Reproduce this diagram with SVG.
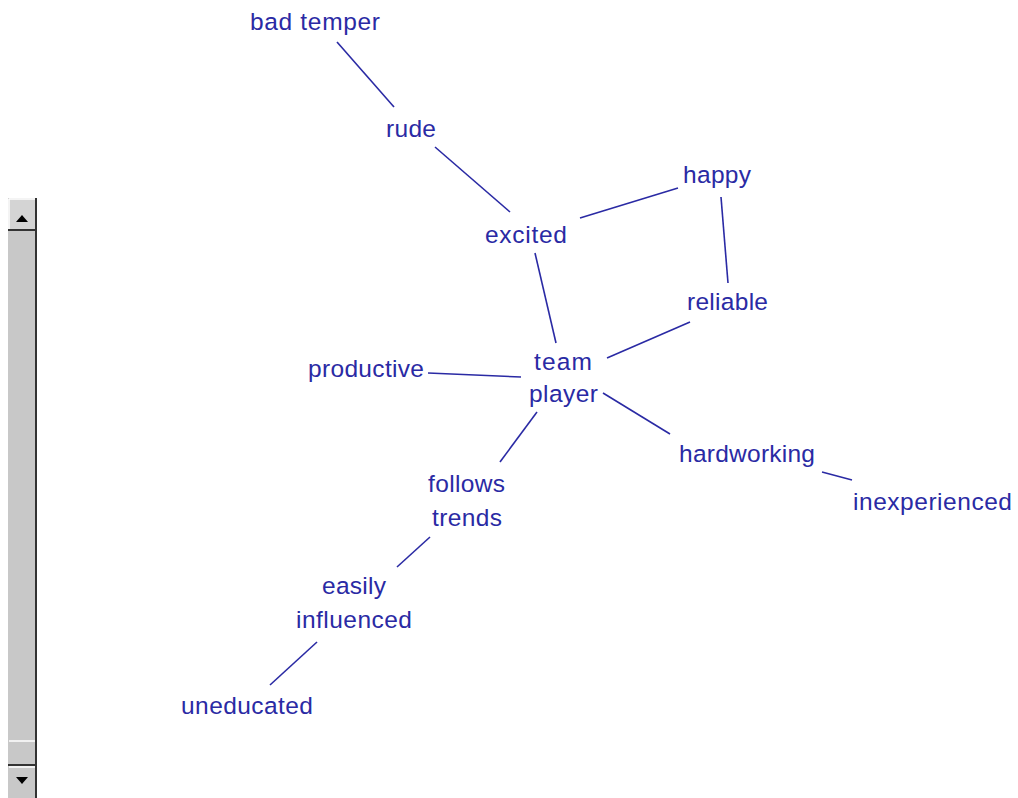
<svg xmlns="http://www.w3.org/2000/svg" width="1018" height="798" viewBox="0 0 1018 798">
<style>
text{font-family:"Liberation Sans",Arial,sans-serif;font-size:24.5px;fill:#2a2aa4;}
.c line{stroke:#2a2aa4;stroke-width:1.6;}
</style>
<rect width="1018" height="798" fill="#ffffff"/>
<g id="scrollbar">
<rect x="8" y="198" width="29" height="600" fill="#c8c8c8"/>
<rect x="8" y="198" width="29" height="32" fill="#d4d4d4"/>
<line x1="9" y1="199" x2="35" y2="199" stroke="#fff" stroke-width="1.5"/>
<line x1="9" y1="199" x2="9" y2="229" stroke="#fff" stroke-width="1.5"/>
<line x1="36" y1="198" x2="36" y2="798" stroke="#333" stroke-width="2"/>
<line x1="8" y1="230" x2="37" y2="230" stroke="#333" stroke-width="2"/>
<polygon points="16,222 28,222 22,215" fill="#000"/>
<line x1="9" y1="741" x2="35" y2="741" stroke="#fff" stroke-width="1.5"/>
<line x1="8" y1="765" x2="37" y2="765" stroke="#333" stroke-width="2"/>
<line x1="9" y1="767" x2="35" y2="767" stroke="#fff" stroke-width="1.5"/>
<polygon points="16,777 28,777 22,784" fill="#000"/>
</g>
<g class="c" id="connectors">
<line x1="337" y1="42" x2="394" y2="107"/>
<line x1="435" y1="147" x2="510" y2="212"/>
<line x1="580" y1="218" x2="678" y2="188"/>
<line x1="721" y1="197" x2="728" y2="283"/>
<line x1="535" y1="253" x2="556" y2="343"/>
<line x1="690" y1="322" x2="607" y2="358"/>
<line x1="428" y1="373" x2="521" y2="377"/>
<line x1="603" y1="393" x2="670" y2="434"/>
<line x1="822" y1="472" x2="852" y2="480"/>
<line x1="537" y1="412" x2="500" y2="462"/>
<line x1="430" y1="537" x2="397" y2="567"/>
<line x1="317" y1="642" x2="270" y2="685"/>
</g>
<g id="bad-temper"><text x="250" y="30" textLength="130">bad temper</text></g>
<g id="rude"><text x="386" y="137" textLength="50">rude</text></g>
<g id="excited"><text x="485" y="243" textLength="82">excited</text></g>
<g id="happy"><text x="683" y="183" textLength="68">happy</text></g>
<g id="reliable"><text x="687" y="310" textLength="81">reliable</text></g>
<g id="team-player"><text x="534" y="370" textLength="58">team</text><text x="529" y="402" textLength="69">player</text></g>
<g id="productive"><text x="308" y="377" textLength="116">productive</text></g>
<g id="hardworking"><text x="679" y="462" textLength="136">hardworking</text></g>
<g id="inexperienced"><text x="853" y="510" textLength="159">inexperienced</text></g>
<g id="follows-trends"><text x="428" y="492" textLength="77">follows</text><text x="432" y="526" textLength="70">trends</text></g>
<g id="easily-influenced"><text x="322" y="594" textLength="64">easily</text><text x="296" y="628" textLength="116">influenced</text></g>
<g id="uneducated"><text x="181" y="714" textLength="132">uneducated</text></g>
</svg>
